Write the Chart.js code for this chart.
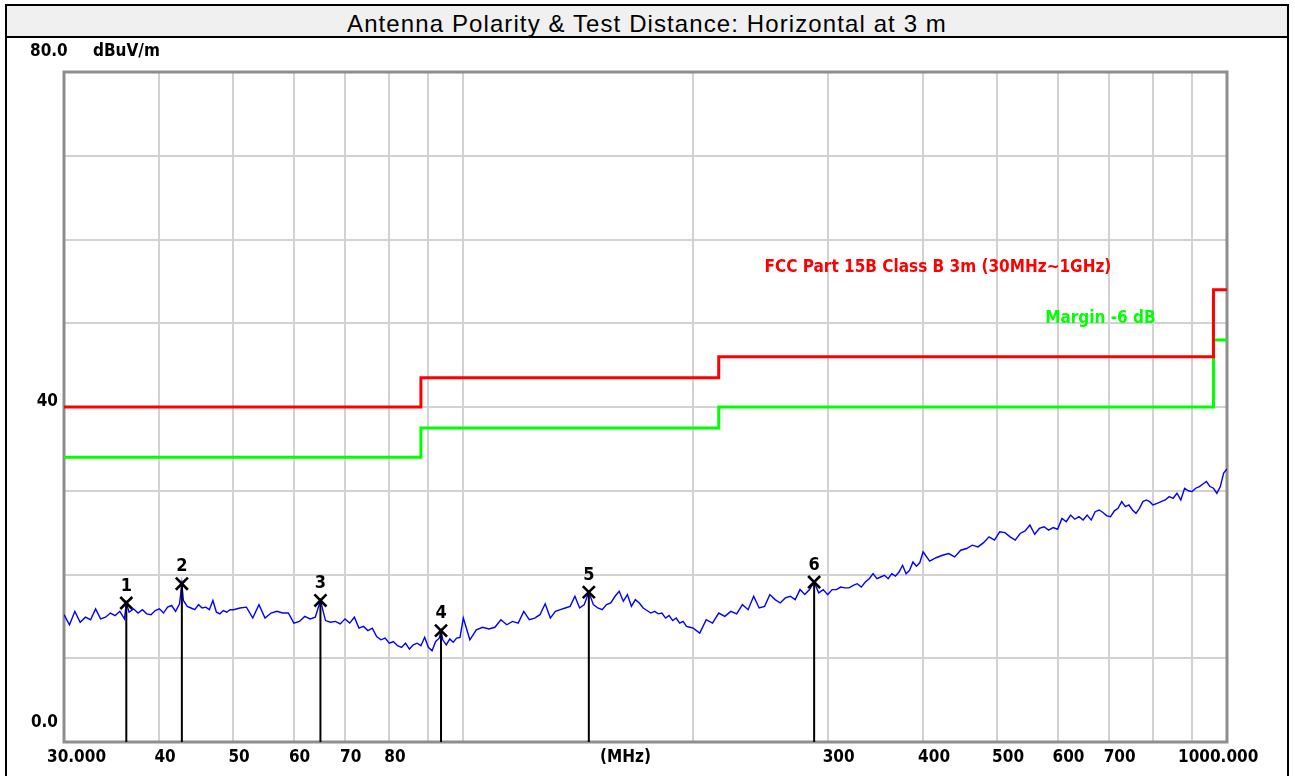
<!DOCTYPE html>
<html lang="en">
<head>
<meta charset="UTF-8">
<title>Antenna Polarity &amp; Test Distance: Horizontal at 3 m</title>
<style>
    body {
        margin: 0;
        background: #fff;
        width: 1295px;
        height: 776px;
        overflow: hidden;
    }
    #wrap {
        position: absolute;
        left: 0;
        top: 0;
        width: 1295px;
        height: 776px;
    }
    .frame {
        position: absolute;
        left: 5px;
        top: 4px;
        width: 1284px;
        height: 800px;
        border: 2px solid #000;
        box-sizing: border-box;
        pointer-events: none;
    }
    .head {
        height: 30px;
        background: #f0f0f0;
        border-bottom: 2px solid #000;
        font: 24px "Liberation Sans", Arial, sans-serif;
        letter-spacing: 1.1px;
        line-height: 36px;
        text-align: center;
        color: #000;
        white-space: nowrap;
        overflow: visible;
    }
</style>
<script src="https://cdn.jsdelivr.net/npm/chart.js"></script>
</head>
<body>
<div id="wrap">
    <canvas id="emi" width="1295" height="776"></canvas>
</div>
<div class="frame"><div class="head">Antenna Polarity &amp; Test Distance: Horizontal at 3 m</div></div>

<script>
const traceFreq = [
    30, 30.5, 31, 31.5, 32, 32.5, 33, 33.5, 34, 34.5, 35, 35.5, 36, 36.2, 36.5, 37, 37.5, 38, 38.5, 39, 39.5,
    40, 40.5, 41, 41.5, 42, 42.5, 42.8, 43, 43.5, 44, 44.5, 45, 45.5, 46, 46.5, 47, 47.5, 48, 48.5, 49, 49.5,
    50, 51, 52, 53, 54, 55, 56, 57, 58, 59, 60, 61, 62, 63, 64, 65, 66, 67, 68, 69, 70, 71, 72, 73, 74,
    75, 76, 77, 78, 79, 80, 81, 82, 83, 84, 85, 86, 87, 88, 89, 90, 91, 92, 93, 93.5, 94, 95, 96, 97, 98, 99,
    100, 102, 104, 106, 108, 110, 112, 114, 116, 118, 120, 122, 124, 126, 128, 130, 132, 134, 136, 138,
    140, 142, 144, 146, 148, 150, 152, 154, 156, 158, 160, 162, 164, 166, 168, 170, 172, 174, 176, 178,
    180, 182, 184, 186, 188, 190, 192, 194, 196, 198,
    200, 204, 208, 212, 216, 220, 224, 228, 232, 236, 240, 244, 248, 252, 256, 260, 264, 268, 272, 276,
    280, 284, 288, 292, 296, 300, 304, 308, 312, 316, 320, 324, 328, 332, 336, 340, 344, 348, 352, 356,
    360, 364, 368, 372, 376, 380, 384, 388, 392, 396,
    400, 408, 416, 424, 432, 440, 448, 456, 464, 472, 480, 488, 496, 504, 512, 520, 528, 536, 544, 552,
    560, 568, 576, 584, 592, 600, 608, 616, 624, 632, 640, 648, 656, 664, 672, 680, 688, 696, 704, 712,
    720, 728, 736, 744, 752, 760, 768, 776, 784, 792,
    800, 810, 820, 830, 840, 850, 860, 870, 880, 890, 900, 910, 920, 930, 940, 950, 960, 970, 980, 990, 1000
];
const traceLevel = [
    15.2, 14.0, 15.6, 14.3, 14.9, 14.6, 15.9, 14.7, 14.9, 15.4, 15.1, 15.6, 14.7, 16.6, 15.5, 15.9, 15.4, 15.8, 15.3, 15.2, 15.7,
    15.9, 15.4, 16.1, 16.3, 15.6, 16.5, 18.9, 16.9, 16.2, 16.0, 15.8, 16.4, 16.0, 16.1, 15.8, 16.9, 15.5, 15.3, 15.7, 15.5, 15.8,
    15.8, 16.0, 16.1, 14.8, 16.4, 14.8, 15.4, 15.6, 15.4, 15.4, 14.2, 14.4, 15.0, 14.7, 14.9, 16.9, 14.5, 14.3, 14.4, 14.1, 14.7, 14.2, 14.9, 13.6, 13.8,
    13.3, 13.6, 12.6, 12.2, 12.4, 11.8, 12.0, 11.5, 11.3, 11.8, 11.1, 11.6, 11.8, 11.5, 12.5, 11.3, 10.9, 12.0, 12.4, 13.3, 12.2, 11.6, 12.3, 11.9, 12.4, 12.5,
    14.8, 12.2, 13.4, 13.7, 13.5, 13.7, 14.6, 14.0, 14.4, 14.2, 15.6, 14.6, 14.8, 15.2, 16.5, 14.8, 15.6, 15.8, 16.0, 16.2,
    17.4, 16.0, 16.4, 17.9, 16.4, 16.0, 15.8, 16.4, 16.6, 17.4, 18.0, 16.8, 17.6, 16.2, 17.0, 16.6, 16.0, 15.7, 15.4, 15.6,
    15.3, 15.4, 14.8, 15.1, 14.5, 14.8, 14.2, 14.4, 13.8, 13.7,
    13.6, 13.0, 14.6, 14.2, 15.4, 15.0, 15.6, 15.3, 16.4, 15.8, 17.4, 16.0, 16.2, 17.6, 17.0, 16.6, 17.2, 17.4, 17.0, 18.2,
    17.6, 18.2, 19.1, 17.8, 18.2, 17.6, 18.2, 18.2, 18.5, 18.4, 18.4, 18.7, 18.9, 18.5, 19.1, 19.5, 20.1, 19.5, 19.7, 19.9,
    19.5, 20.1, 19.8, 20.3, 21.1, 20.1, 20.5, 21.5, 21.0, 21.4,
    22.7, 21.6, 22.0, 22.3, 22.5, 22.1, 22.9, 23.1, 23.5, 23.3, 23.8, 24.5, 24.1, 25.1, 25.0, 24.5, 24.1, 24.9, 25.2, 25.9,
    24.8, 25.5, 25.7, 25.3, 25.6, 25.4, 26.7, 26.3, 27.1, 26.6, 26.9, 26.5, 27.1, 26.5, 27.5, 27.7, 27.4, 27.0, 26.9, 27.6,
    27.9, 28.7, 28.1, 28.3, 27.7, 27.3, 27.9, 28.7, 28.9, 28.7,
    28.3, 28.5, 28.7, 28.9, 29.3, 29.1, 29.7, 28.9, 30.3, 30.0, 29.9, 30.3, 30.5, 30.8, 31.1, 30.5, 30.3, 29.7, 30.5, 32.1, 32.6
];

// FCC Part 15B class B limit and -6 dB margin (step starts)
const limitFreq = [30, 88, 216, 960, 1000];
const limitLevel = [40, 43.5, 46, 54, 54];
const marginLevel = [34, 37.5, 40, 48, 48];

// peak markers
const markerFreq = [36.2, 42.8, 65, 93.5, 146, 288];
const markerLevel = [16.6, 18.9, 16.9, 13.3, 17.9, 19.1];
const markerName = ['1', '2', '3', '4', '5', '6'];

// axes
const xGrid = [30, 40, 50, 60, 70, 80, 90, 100, 200, 300, 400, 500, 600, 700, 800, 900, 1000];
const xTickValues = [30, 40, 50, 60, 70, 80, 300, 400, 500, 600, 700, 1000];
const xTickLabels = ['30.000', '40', '50', '60', '70', '80', '300', '400', '500', '600', '700', '1000.000'];
const yGrid = [0, 10, 20, 30, 40, 50, 60, 70, 80];
const yTickValues = [80, 40, 0];
const yTickLabels = ['80.0', '40', '0.0'];

const bold = (px) => 'bold ' + px + 'px "DejaVu Sans Condensed", "Liberation Sans Narrow", sans-serif';

const pts = (xs, ys) => xs.map((x, i) => ({ x: x, y: ys[i] }));

const stems = [];
markerFreq.forEach((f, i) => {
    stems.push({ x: f, y: 0 }, { x: f, y: markerLevel[i] }, { x: f, y: null });
});

// frame of the plot area
const frame = {
    id: 'frame',
    beforeDatasetsDraw(chart) {
        const a = chart.chartArea, c = chart.ctx;
        c.save();
        c.strokeStyle = '#8e8e8e';
        c.lineWidth = 3;
        c.strokeRect(a.left, a.top, a.right - a.left, a.bottom - a.top);
        c.restore();
    }
};

// texts drawn the way the receiver software lays them out
const texts = {
    id: 'texts',
    afterDraw(chart) {
        const c = chart.ctx, a = chart.chartArea;
        const xs = chart.scales.x, ys = chart.scales.y;
        c.save();
        c.fillStyle = '#000';
        c.textBaseline = 'middle';
        c.font = bold(17);

        // y labels
        c.textAlign = 'left';
        c.fillText(yTickLabels[0], a.left - 34, ys.getPixelForValue(yTickValues[0]) - 20);
        c.fillText('dBuV/m', a.left + 29, ys.getPixelForValue(yTickValues[0]) - 20);
        c.textAlign = 'right';
        c.fillText(yTickLabels[1], a.left - 6, ys.getPixelForValue(yTickValues[1]) - 5);
        c.fillText(yTickLabels[2], a.left - 6, ys.getPixelForValue(yTickValues[2]) - 19);

        // x labels
        const ly = a.bottom + 16;
        c.textAlign = 'left';
        xTickValues.forEach((v, i) => {
            const px = xs.getPixelForValue(v);
            let left = px - 5;
            if (i === 0) left = px - 17;
            if (i === xTickValues.length - 1) left = px - 49;
            c.fillText(xTickLabels[i], left, ly);
        });
        c.textAlign = 'center';
        c.fillText('(MHz)', (a.left + a.right) / 2 - 20, ly);

        // limit captions
        c.textAlign = 'left';
        c.fillStyle = '#ff0000';
        c.fillText('FCC Part 15B Class B 3m (30MHz~1GHz)', xs.getPixelForValue(248), ys.getPixelForValue(56.6));
        c.fillStyle = '#00ff00';
        c.fillText('Margin -6 dB', xs.getPixelForValue(578), ys.getPixelForValue(50.6));

        // marker numbers
        c.fillStyle = '#000';
        c.textAlign = 'center';
        c.font = bold(18);
        markerFreq.forEach((f, i) => {
            c.fillText(markerName[i], xs.getPixelForValue(f), ys.getPixelForValue(markerLevel[i]) - 17);
        });
        c.restore();
    }
};

new Chart(document.getElementById('emi'), {
    type: 'line',
    data: {
        datasets: [
            {
                label: 'Markers',
                data: pts(markerFreq, markerLevel),
                showLine: false,
                pointStyle: 'crossRot',
                pointRadius: 8.5,
                pointBorderWidth: 2.6,
                pointBorderColor: '#000',
                borderColor: '#000',
                order: 0
            },
            {
                label: 'Stems',
                data: stems,
                borderColor: '#000',
                borderWidth: 2,
                pointRadius: 0,
                spanGaps: false,
                order: 1
            },
            {
                label: 'FCC Part 15B Class B 3m',
                data: pts(limitFreq, limitLevel),
                borderColor: '#ff0000',
                borderWidth: 3,
                pointRadius: 0,
                stepped: 'before',
                order: 2
            },
            {
                label: 'Margin -6 dB',
                data: pts(limitFreq, marginLevel),
                borderColor: '#00ff00',
                borderWidth: 3,
                pointRadius: 0,
                stepped: 'before',
                order: 3
            },
            {
                label: 'Horizontal',
                data: pts(traceFreq, traceLevel),
                borderColor: '#0000ff',
                borderWidth: 1.4,
                pointRadius: 0,
                tension: 0,
                order: 4
            }
        ]
    },
    options: {
        responsive: false,
        animation: false,
        devicePixelRatio: 1,
        layout: { padding: { left: 64, right: 68, top: 72, bottom: 34 } },
        plugins: {
            legend: { display: false },
            tooltip: { enabled: false },
            title: { display: false }
        },
        scales: {
            x: {
                type: 'logarithmic',
                min: 30,
                max: 1000,
                afterBuildTicks: (axis) => { axis.ticks = xGrid.map(v => ({ value: v })); },
                ticks: { display: false },
                grid: { color: '#d2d2d2', lineWidth: 2, drawTicks: false },
                border: { display: false }
            },
            y: {
                type: 'linear',
                min: 0,
                max: 80,
                afterBuildTicks: (axis) => { axis.ticks = yGrid.map(v => ({ value: v })); },
                ticks: { display: false },
                grid: { color: '#d2d2d2', lineWidth: 2, drawTicks: false },
                border: { display: false }
            }
        }
    },
    plugins: [frame, texts]
});
</script>
</body>
</html>
